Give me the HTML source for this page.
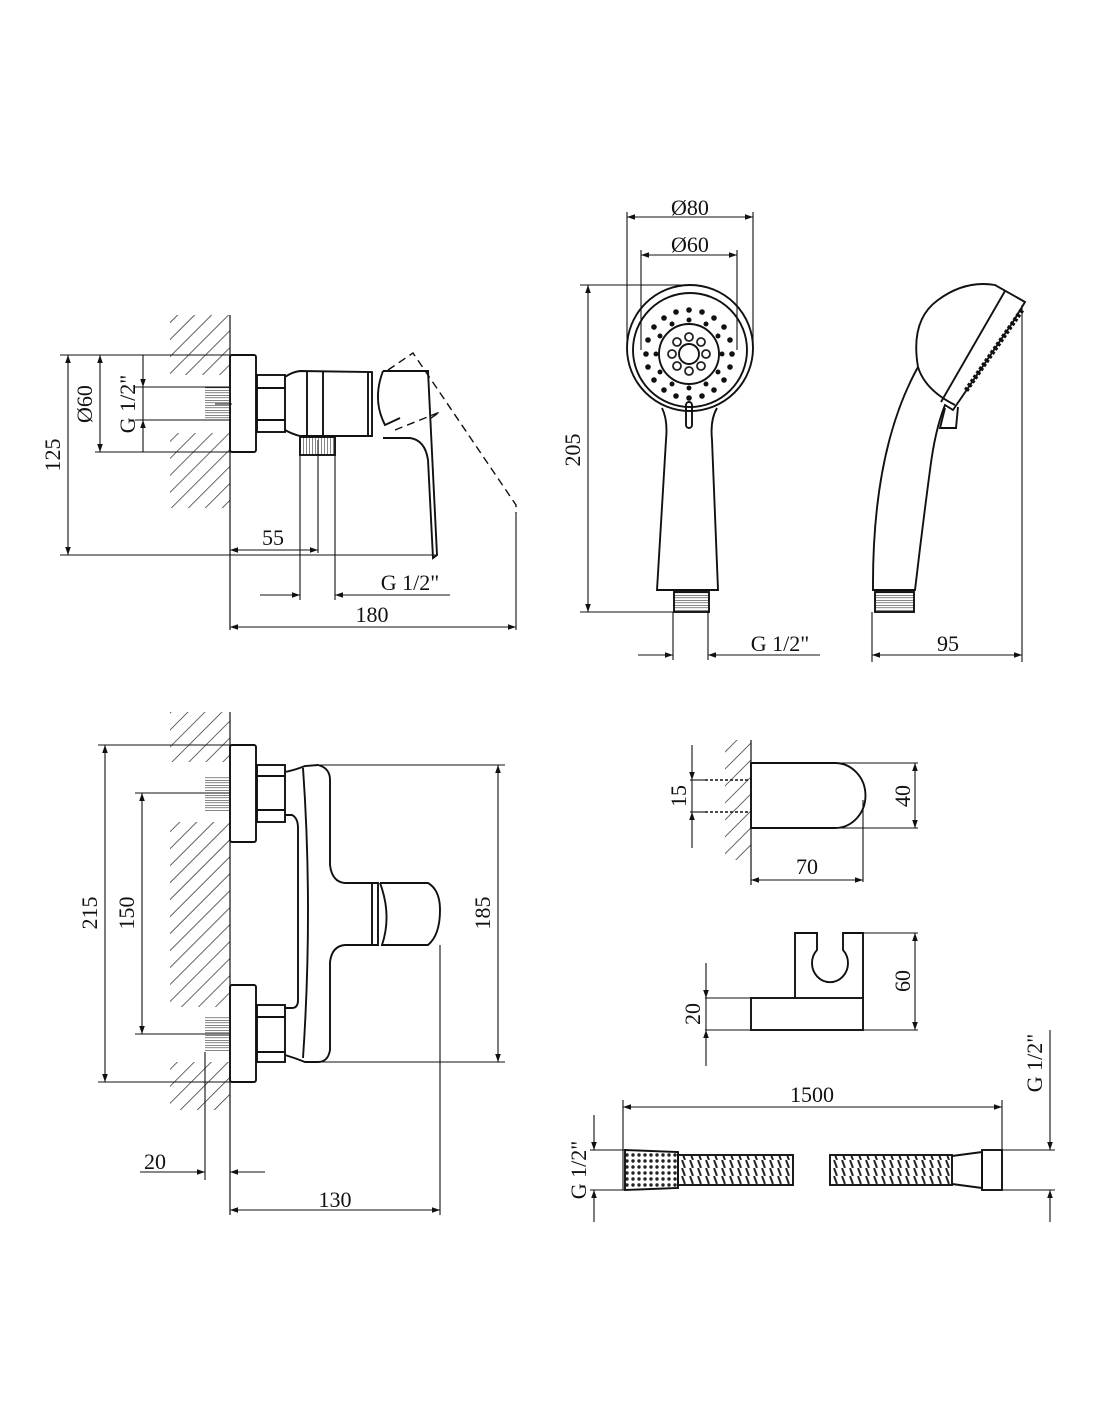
<!DOCTYPE html>
<html><head><meta charset="utf-8"><style>
html,body{margin:0;padding:0;background:#fff;width:1100px;height:1422px;overflow:hidden}
svg text{font-family:"Liberation Serif",serif;font-size:22px;fill:#111}
</style></head><body>
<svg width="1100" height="1422" viewBox="0 0 1100 1422" xmlns="http://www.w3.org/2000/svg">
<defs>
<pattern id="h" width="12" height="12" patternUnits="userSpaceOnUse" patternTransform="rotate(45)">
<line x1="0" y1="0" x2="0" y2="12" stroke="#222" stroke-width="1.4"/></pattern>
<pattern id="th" width="3" height="10" patternUnits="userSpaceOnUse"><line x1="0" y1="0" x2="0" y2="10" stroke="#333" stroke-width="1.2"/></pattern>
<pattern id="tv" width="10" height="2.5" patternUnits="userSpaceOnUse"><line x1="0" y1="0" x2="10" y2="0" stroke="#333" stroke-width="1.2"/></pattern>
<pattern id="hs" width="8" height="8" patternUnits="userSpaceOnUse"><line x1="2" y1="0" x2="5" y2="8" stroke="#222" stroke-width="2"/></pattern>
<pattern id="dt" width="6" height="6" patternUnits="userSpaceOnUse"><circle cx="3" cy="3" r="1.7" fill="#222"/></pattern>
<marker id="a" viewBox="0 0 10 10" refX="10" refY="5" markerWidth="14" markerHeight="8" orient="auto-start-reverse" markerUnits="userSpaceOnUse"><path d="M0,1.5 L10,5 L0,8.5z" fill="#111"/></marker>
</defs>
<g fill="none" stroke="#111" stroke-width="1.9">
<!-- TOP LEFT MIXER -->
<rect x="170" y="315" width="60" height="60" fill="url(#h)" stroke="none"/>
<rect x="170" y="433" width="60" height="75" fill="url(#h)" stroke="none"/>
<line x1="230" y1="315" x2="230" y2="630" stroke-width="1.2"/>
<rect x="230" y="355" width="26" height="97" rx="2"/>
<rect x="205" y="387" width="25" height="33" fill="url(#tv)" stroke="none"/>
<rect x="257" y="375" width="28" height="57"/>
<line x1="257" y1="388" x2="285" y2="388"/><line x1="257" y1="420" x2="285" y2="420"/>
<path d="M285,377 Q292,372 300,371 L372,372 L372,436 L300,436 Q292,434 285,430"/>
<line x1="307" y1="371" x2="307" y2="436"/><line x1="323" y1="371" x2="323" y2="436"/>
<line x1="368" y1="372" x2="368" y2="436"/>
<path d="M383,371 L428,371 L437,555 L433,558 L428,460 Q425,440 410,438 L383,438"/>
<path d="M383,371 Q372,400 385,425 L400,418" />
<rect x="300" y="437" width="35" height="18" fill="url(#th)"/>
<path d="M388,370 L413,353 L516,505 L516,513" stroke-dasharray="8,5" stroke-width="1.4"/>
<path d="M395,430 L440,412 L428,420" stroke-dasharray="8,5" stroke-width="1.4"/>
<g stroke-width="1.1">
<line x1="60" y1="355" x2="230" y2="355"/><line x1="60" y1="555" x2="437" y2="555"/>
<line x1="68" y1="355" x2="68" y2="555" marker-start="url(#a)" marker-end="url(#a)"/>
<line x1="95" y1="452" x2="230" y2="452"/>
<line x1="100" y1="355" x2="100" y2="452" marker-start="url(#a)" marker-end="url(#a)"/>
<line x1="135" y1="387" x2="230" y2="387"/><line x1="135" y1="420" x2="230" y2="420"/>
<line x1="143" y1="355" x2="143" y2="387" marker-end="url(#a)"/>
<line x1="143" y1="452" x2="143" y2="420" marker-end="url(#a)"/>
<line x1="143" y1="387" x2="143" y2="420"/>
<line x1="215" y1="404" x2="232" y2="404"/>
<line x1="300" y1="455" x2="300" y2="600"/><line x1="318" y1="440" x2="318" y2="553"/><line x1="335" y1="455" x2="335" y2="600"/>
<line x1="230" y1="550" x2="318" y2="550" marker-start="url(#a)" marker-end="url(#a)"/>
<line x1="260" y1="595" x2="300" y2="595" marker-end="url(#a)"/>
<line x1="335" y1="595" x2="450" y2="595" marker-start="url(#a)"/>
<line x1="516" y1="513" x2="516" y2="630"/>
<line x1="230" y1="627" x2="516" y2="627" marker-start="url(#a)" marker-end="url(#a)"/>
</g>
<!-- SHOWER HEAD FRONT -->
<circle cx="690" cy="348" r="63"/>
<circle cx="690" cy="350" r="57"/>
<circle cx="689" cy="354" r="30"/>
<circle cx="689" cy="354" r="10"/>
<path d="M662,408 Q668,420 666,440 L657,590 L718,590 L712,440 Q710,420 717,408"/>
<rect x="686" y="402" width="6" height="26" rx="3"/>
<rect x="674" y="592" width="35" height="20" fill="url(#tv)"/>
<g stroke-width="1.1">
<line x1="627" y1="212" x2="627" y2="348"/><line x1="753" y1="212" x2="753" y2="348"/>
<line x1="627" y1="217" x2="753" y2="217" marker-start="url(#a)" marker-end="url(#a)"/>
<line x1="641" y1="250" x2="641" y2="350"/><line x1="737" y1="250" x2="737" y2="350"/>
<line x1="641" y1="255" x2="737" y2="255" marker-start="url(#a)" marker-end="url(#a)"/>
<line x1="580" y1="285" x2="690" y2="285"/><line x1="580" y1="612" x2="674" y2="612"/>
<line x1="588" y1="285" x2="588" y2="612" marker-start="url(#a)" marker-end="url(#a)"/>
<line x1="673" y1="612" x2="673" y2="660"/><line x1="708" y1="612" x2="708" y2="660"/>
<line x1="638" y1="655" x2="673" y2="655" marker-end="url(#a)"/>
<line x1="708" y1="655" x2="820" y2="655" marker-start="url(#a)"/>
</g>
<!-- SHOWER SIDE -->
<path d="M873,590 Q872,450 918,367 Q910,320 938,300 Q965,280 995,285 L1025,302 L1013,322 L953,410 L945,405 Q935,430 930,470 Q922,530 915,590 Z"/>
<path d="M918,367 Q925,390 955,405"/>
<line x1="1005" y1="291" x2="941" y2="402"/>
<path d="M945,408 L940,428 L956,428 L958,407"/>
<line x1="1022" y1="310" x2="965" y2="392" stroke-width="5" stroke-dasharray="3,2"/>
<rect x="875" y="592" width="39" height="20" fill="url(#tv)"/>
<g stroke-width="1.1">
<line x1="872" y1="612" x2="872" y2="662"/><line x1="1022" y1="305" x2="1022" y2="662"/>
<line x1="872" y1="655" x2="1022" y2="655" marker-start="url(#a)" marker-end="url(#a)"/>
</g>
<!-- BOTTOM LEFT MIXER -->
<rect x="170" y="712" width="60" height="50" fill="url(#h)" stroke="none"/>
<rect x="170" y="822" width="60" height="185" fill="url(#h)" stroke="none"/>
<rect x="170" y="1062" width="60" height="48" fill="url(#h)" stroke="none"/>
<line x1="230" y1="712" x2="230" y2="1215" stroke-width="1.2"/>
<rect x="230" y="745" width="26" height="97" rx="2"/>
<rect x="230" y="985" width="26" height="97" rx="2"/>
<rect x="205" y="776" width="25" height="35" fill="url(#tv)" stroke="none"/>
<rect x="205" y="1017" width="25" height="35" fill="url(#tv)" stroke="none"/>
<rect x="257" y="765" width="28" height="57"/><line x1="257" y1="776" x2="285" y2="776"/><line x1="257" y1="810" x2="285" y2="810"/>
<rect x="257" y="1005" width="28" height="57"/><line x1="257" y1="1017" x2="285" y2="1017"/><line x1="257" y1="1052" x2="285" y2="1052"/>
<path d="M285,772 Q295,770 305,766 L318,765 Q330,768 330,780 L330,865 Q332,882 345,883 L372,883 L372,945 L345,945 Q332,946 330,962 L330,1050 Q328,1062 318,1062 L305,1062 Q295,1058 285,1055"/>
<path d="M303,768 Q313,910 303,1058"/>
<path d="M285,815 L292,815 Q298,818 298,828 L298,1000 Q298,1008 292,1008 L285,1008"/>
<path d="M372,883 L378,883 L378,945 L372,945"/>
<path d="M380,883 L428,883 Q440,890 440,910 Q440,935 428,945 L382,945 Q392,915 380,883"/>
<g stroke-width="1.1">
<line x1="98" y1="745" x2="230" y2="745"/><line x1="98" y1="1082" x2="230" y2="1082"/>
<line x1="105" y1="745" x2="105" y2="1082" marker-start="url(#a)" marker-end="url(#a)"/>
<line x1="135" y1="793" x2="230" y2="793"/><line x1="135" y1="1034" x2="230" y2="1034"/>
<line x1="142" y1="793" x2="142" y2="1034" marker-start="url(#a)" marker-end="url(#a)"/>
<line x1="318" y1="765" x2="505" y2="765"/><line x1="318" y1="1062" x2="505" y2="1062"/>
<line x1="498" y1="765" x2="498" y2="1062" marker-start="url(#a)" marker-end="url(#a)"/>
<line x1="205" y1="1052" x2="205" y2="1180"/><line x1="440" y1="945" x2="440" y2="1215"/>
<line x1="140" y1="1172" x2="205" y2="1172" marker-end="url(#a)"/>
<line x1="230" y1="1172" x2="265" y2="1172" marker-start="url(#a)"/>
<line x1="230" y1="1210" x2="440" y2="1210" marker-start="url(#a)" marker-end="url(#a)"/>
</g>
<!-- HOLDER -->
<rect x="725" y="740" width="26" height="120" fill="url(#h)" stroke="none"/>
<line x1="751" y1="740" x2="751" y2="885" stroke-width="1.2"/>
<path d="M751,763 L835,763 A30,32 0 0 1 835,828 L751,828 Z"/>
<line x1="705" y1="780" x2="751" y2="780" stroke-width="1.6" stroke-dasharray="3,2"/>
<line x1="705" y1="812" x2="751" y2="812" stroke-width="1.6" stroke-dasharray="3,2"/>
<g stroke-width="1.1">
<line x1="690" y1="780" x2="705" y2="780"/><line x1="690" y1="812" x2="705" y2="812"/>
<line x1="692" y1="745" x2="692" y2="780" marker-end="url(#a)"/>
<line x1="692" y1="848" x2="692" y2="812" marker-end="url(#a)"/>
<line x1="692" y1="780" x2="692" y2="812"/>
<line x1="835" y1="763" x2="918" y2="763"/><line x1="835" y1="828" x2="918" y2="828"/>
<line x1="915" y1="763" x2="915" y2="828" marker-start="url(#a)" marker-end="url(#a)"/>
<line x1="863" y1="800" x2="863" y2="882"/>
<line x1="751" y1="880" x2="863" y2="880" marker-start="url(#a)" marker-end="url(#a)"/>
</g>
<!-- BRACKET -->
<rect x="751" y="998" width="112" height="32"/>
<path d="M795,998 L795,933 L817,933 L817,950 A18,19 0 1 0 843,950 L843,933 L863,933 L863,998"/>
<g stroke-width="1.1">
<line x1="863" y1="933" x2="918" y2="933"/><line x1="863" y1="1030" x2="918" y2="1030"/>
<line x1="915" y1="933" x2="915" y2="1030" marker-start="url(#a)" marker-end="url(#a)"/>
<line x1="705" y1="998" x2="751" y2="998"/><line x1="705" y1="1030" x2="751" y2="1030"/>
<line x1="706" y1="963" x2="706" y2="998" marker-end="url(#a)"/>
<line x1="706" y1="1066" x2="706" y2="1030" marker-end="url(#a)"/>
<line x1="706" y1="998" x2="706" y2="1030"/>
</g>
<!-- HOSE -->
<path d="M625,1150 L678,1152 L678,1188 L625,1190 Z" fill="url(#dt)"/>
<rect x="678" y="1155" width="115" height="30" fill="url(#hs)"/>
<rect x="830" y="1155" width="122" height="30" fill="url(#hs)"/>
<path d="M952,1156 L982,1152 L982,1188 L952,1184"/>
<rect x="982" y="1150" width="20" height="40"/>
<g stroke-width="1.1">
<line x1="623" y1="1100" x2="623" y2="1190"/><line x1="1002" y1="1100" x2="1002" y2="1150"/>
<line x1="623" y1="1107" x2="1002" y2="1107" marker-start="url(#a)" marker-end="url(#a)"/>
<line x1="590" y1="1150" x2="625" y2="1150"/><line x1="590" y1="1190" x2="625" y2="1190"/>
<line x1="594" y1="1115" x2="594" y2="1150" marker-end="url(#a)"/>
<line x1="594" y1="1222" x2="594" y2="1190" marker-end="url(#a)"/>
<line x1="1002" y1="1150" x2="1055" y2="1150"/><line x1="1002" y1="1190" x2="1055" y2="1190"/>
<line x1="1050" y1="1030" x2="1050" y2="1150" marker-end="url(#a)"/>
<line x1="1050" y1="1222" x2="1050" y2="1190" marker-end="url(#a)"/>
</g>
</g>
<g fill="#fff" stroke="#222" stroke-width="1.8">
<circle cx="689" cy="337" r="4"/><circle cx="689" cy="371" r="4"/><circle cx="672" cy="354" r="4"/><circle cx="706" cy="354" r="4"/>
<circle cx="677" cy="342" r="4"/><circle cx="701" cy="342" r="4"/><circle cx="677" cy="366" r="4"/><circle cx="701" cy="366" r="4"/>
</g>
<g fill="#111">
<circle cx="689" cy="310" r="2.8"/><circle cx="702" cy="312" r="2.8"/><circle cx="714" cy="318" r="2.8"/><circle cx="724" cy="327" r="2.8"/><circle cx="730" cy="340" r="2.8"/><circle cx="732" cy="354" r="2.8"/><circle cx="730" cy="367" r="2.8"/><circle cx="724" cy="380" r="2.8"/><circle cx="714" cy="390" r="2.8"/><circle cx="702" cy="396" r="2.8"/><circle cx="689" cy="398" r="2.8"/><circle cx="676" cy="396" r="2.8"/><circle cx="664" cy="390" r="2.8"/><circle cx="654" cy="380" r="2.8"/><circle cx="648" cy="367" r="2.8"/><circle cx="646" cy="354" r="2.8"/><circle cx="648" cy="340" r="2.8"/><circle cx="654" cy="327" r="2.8"/><circle cx="664" cy="318" r="2.8"/><circle cx="676" cy="312" r="2.8"/>
<circle cx="689" cy="320" r="2.5"/><circle cx="706" cy="324" r="2.5"/><circle cx="718" cy="336" r="2.5"/><circle cx="722" cy="354" r="2.5"/><circle cx="718" cy="372" r="2.5"/><circle cx="706" cy="384" r="2.5"/><circle cx="689" cy="388" r="2.5"/><circle cx="672" cy="384" r="2.5"/><circle cx="660" cy="372" r="2.5"/><circle cx="656" cy="354" r="2.5"/><circle cx="660" cy="336" r="2.5"/><circle cx="672" cy="324" r="2.5"/>
</g>
<!-- TEXT -->
<text x="60" y="455" text-anchor="middle" transform="rotate(-90 60 455)">125</text>
<text x="92" y="404" text-anchor="middle" transform="rotate(-90 92 404)">Ø60</text>
<text x="135" y="404" text-anchor="middle" transform="rotate(-90 135 404)">G 1/2"</text>
<text x="273" y="545" text-anchor="middle">55</text>
<text x="410" y="590" text-anchor="middle">G 1/2"</text>
<text x="372" y="622" text-anchor="middle">180</text>
<text x="690" y="215" text-anchor="middle">Ø80</text>
<text x="690" y="252" text-anchor="middle">Ø60</text>
<text x="580" y="450" text-anchor="middle" transform="rotate(-90 580 450)">205</text>
<text x="780" y="651" text-anchor="middle">G 1/2"</text>
<text x="948" y="651" text-anchor="middle">95</text>
<text x="97" y="913" text-anchor="middle" transform="rotate(-90 97 913)">215</text>
<text x="134" y="913" text-anchor="middle" transform="rotate(-90 134 913)">150</text>
<text x="490" y="913" text-anchor="middle" transform="rotate(-90 490 913)">185</text>
<text x="155" y="1169" text-anchor="middle">20</text>
<text x="335" y="1207" text-anchor="middle">130</text>
<text x="686" y="796" text-anchor="middle" transform="rotate(-90 686 796)">15</text>
<text x="910" y="796" text-anchor="middle" transform="rotate(-90 910 796)">40</text>
<text x="807" y="874" text-anchor="middle">70</text>
<text x="910" y="981" text-anchor="middle" transform="rotate(-90 910 981)">60</text>
<text x="700" y="1014" text-anchor="middle" transform="rotate(-90 700 1014)">20</text>
<text x="812" y="1102" text-anchor="middle">1500</text>
<text x="586" y="1170" text-anchor="middle" transform="rotate(-90 586 1170)">G 1/2"</text>
<text x="1042" y="1063" text-anchor="middle" transform="rotate(-90 1042 1063)">G 1/2"</text>
</svg>
</body></html>
